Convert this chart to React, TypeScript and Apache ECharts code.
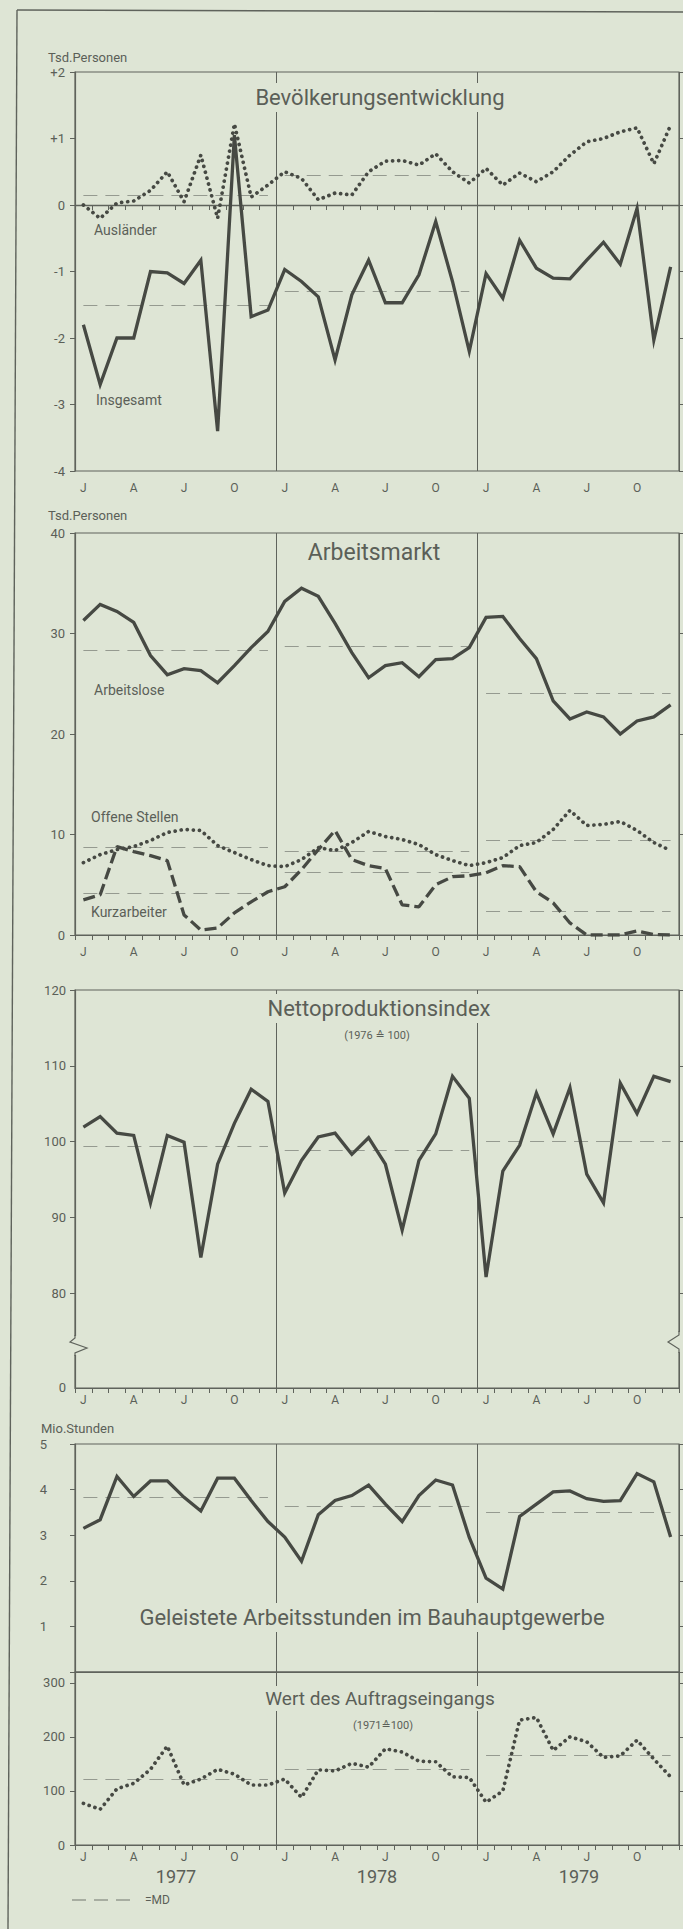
import React, { useEffect, useRef } from 'react';
import * as echarts from 'echarts';

// ---------- categories & tick labels ----------
const YEARS = ['1977', '1978', '1979'];
const MONTH_CODES = ['01', '02', '03', '04', '05', '06', '07', '08', '09', '10', '11', '12'];
const MONTHS = YEARS.flatMap((y) => MONTH_CODES.map((m) => `${y}-${m}`));
const MONTH_TICK_LABELS = ['J', '', '', 'A', '', '', 'J', '', '', 'O', '', ''];

// ---------- Bevölkerungsentwicklung (Tsd. Personen) ----------
const INSGESAMT = [
  -1.8, -2.7, -2.0, -2.0, -1.0, -1.02, -1.18, -0.83, -3.4, 1.05, -1.68, -1.58,
  -0.97, -1.15, -1.38, -2.33, -1.35, -0.83, -1.47, -1.47, -1.05, -0.25, -1.15, -2.2,
  -1.03, -1.4, -0.53, -0.95, -1.1, -1.11, -0.83, -0.56, -0.89, -0.05, -2.03, -0.93,
];
const AUSLAENDER = [
  0.0, -0.2, 0.03, 0.06, 0.22, 0.5, 0.05, 0.75, -0.2, 1.22, 0.12, 0.3,
  0.5, 0.4, 0.08, 0.18, 0.15, 0.5, 0.66, 0.67, 0.6, 0.77, 0.5, 0.33,
  0.55, 0.3, 0.48, 0.35, 0.5, 0.75, 0.95, 1.0, 1.1, 1.16, 0.62, 1.2,
];
const INSGESAMT_MD = [-1.5, -1.3, null];
const AUSLAENDER_MD = [0.15, 0.45, null];

// ---------- Arbeitsmarkt (Tsd. Personen) ----------
const ARBEITSLOSE = [
  31.3, 32.9, 32.2, 31.1, 27.8, 25.9, 26.5, 26.3, 25.1, 26.8, 28.6, 30.2,
  33.2, 34.5, 33.7, 31.0, 28.1, 25.6, 26.8, 27.1, 25.7, 27.4, 27.5, 28.6,
  31.6, 31.7, 29.5, 27.5, 23.3, 21.5, 22.2, 21.7, 20.0, 21.3, 21.7, 22.9,
];
const OFFENE_STELLEN = [
  7.2, 8.0, 8.5, 8.8, 9.4, 10.2, 10.5, 10.4, 8.9, 8.2, 7.5, 6.9,
  6.8, 7.5, 8.7, 8.4, 9.2, 10.3, 9.8, 9.5, 9.0, 8.0, 7.4, 6.9,
  7.2, 7.7, 8.9, 9.2, 10.5, 12.4, 10.9, 11.0, 11.3, 10.4, 9.2, 8.4,
];
const KURZARBEITER = [
  3.5, 4.0, 8.8, 8.3, 7.9, 7.4, 2.0, 0.5, 0.7, 2.2, 3.3, 4.3,
  4.8, 6.5, 8.5, 10.4, 7.5, 6.9, 6.6, 3.0, 2.8, 5.0, 5.8, 5.9,
  6.2, 6.9, 6.8, 4.3, 3.2, 1.2, 0.0, 0.0, 0.0, 0.4, 0.05, 0.0,
];
const ARBEITSLOSE_MD = [28.3, 28.7, 24.1];
const OFFENE_STELLEN_MD = [8.7, 8.3, 9.4];
const KURZARBEITER_MD = [4.2, 6.2, 2.4];

// ---------- Nettoproduktionsindex (1976 = 100) ----------
const NETTO = [
  101.9, 103.3, 101.1, 100.8, 91.9, 100.8, 99.9, 84.7, 97.0, 102.4, 106.9, 105.3,
  93.2, 97.5, 100.6, 101.1, 98.3, 100.5, 97.0, 88.3, 97.5, 101.0, 108.6, 105.7,
  82.1, 96.1, 99.5, 106.4, 101.0, 107.1, 95.7, 91.9, 107.7, 103.7, 108.6, 107.9,
];
const NETTO_MD = [99.4, 98.9, 100.0];
const NETTO_TICKS = [80, 90, 100, 110, 120];

// ---------- Bauhauptgewerbe ----------
const STUNDEN = [
  3.15, 3.34, 4.29, 3.85, 4.19, 4.19, 3.83, 3.53, 4.25, 4.25, 3.76, 3.3,
  2.96, 2.43, 3.45, 3.76, 3.87, 4.1, 3.68, 3.3, 3.87, 4.21, 4.1, 2.95,
  2.06, 1.82, 3.41, 3.68, 3.95, 3.97, 3.8, 3.74, 3.76, 4.35, 4.17, 2.96,
];
const STUNDEN_MD = [3.83, 3.63, 3.5];
const AUFTRAG = [
  77, 66, 104, 114, 140, 183, 111, 122, 140, 131, 111, 111,
  122, 88, 139, 137, 151, 144, 178, 172, 155, 154, 126, 125,
  79, 100, 231, 236, 175, 200, 191, 162, 165, 194, 159, 126,
];
const AUFTRAG_MD = [121, 140, 166];

// ---------- style ----------
const BG = '#dee5d5';
const INK = '#464943';
const FRAME = '#5f635c';
const TEXT = '#5b5f58';
const MD_COLOR = '#959a90';
const FONT = 'Roboto, "DejaVu Sans", sans-serif';

const PLOT_LEFT = 75;
const PLOT_W = 604;
const GRID_BOXES = [
  { top: 72, height: 399 },
  { top: 533, height: 402 },
  { top: 990, height: 398 },
  { top: 1444, height: 228 },
  { top: 1672, height: 173 },
];
// bottom of the broken Netto axis ("0") expressed on the 80..120 scale
const NETTO_BOTTOM = 80 - 95 / (303 / 40);

function mdPairs(md: (number | null)[]) {
  const out: any[] = [];
  md.forEach((v, k) => {
    if (v == null) return;
    out.push([{ coord: [MONTHS[k * 12], v] }, { coord: [MONTHS[k * 12 + 11], v] }]);
  });
  return out;
}

const SOLID = { color: INK, width: 3.3, join: 'miter', miterLimit: 6 };
const DOTTED = { color: INK, width: 3.7, type: [0.1, 6], cap: 'round' };
const DASHED = { color: INK, width: 3.3, type: [12, 5], cap: 'butt' };

function lineSeries(name: string, gi: number, data: number[], lineStyle: any, md: (number | null)[], extra: any[] = []) {
  return {
    name,
    type: 'line',
    xAxisIndex: gi * 2,
    yAxisIndex: gi * 2,
    data,
    showSymbol: false,
    symbol: 'none',
    silent: true,
    z: 3,
    lineStyle,
    markLine: {
      silent: true,
      symbol: ['none', 'none'],
      z: 1,
      label: { show: false },
      lineStyle: { type: [14, 8], color: MD_COLOR, width: 1.2 },
      data: [...extra, ...mdPairs(md)],
    },
  };
}

function catAxis(gi: number, showLabels: boolean, margin: number) {
  return {
    type: 'category',
    gridIndex: gi,
    data: MONTHS,
    boundaryGap: true,
    position: 'bottom',
    axisLine: { show: true, lineStyle: { color: FRAME, width: 1.2 } },
    axisTick: { show: showLabels, interval: 0, length: 5, lineStyle: { color: FRAME, width: 1 } },
    axisLabel: {
      show: showLabels,
      interval: 0,
      margin,
      color: TEXT,
      fontSize: 12,
      fontFamily: FONT,
      formatter: (_v: string, i: number) => MONTH_TICK_LABELS[i % 12],
    },
    splitLine: { show: false },
  };
}

function yearAxis(gi: number) {
  return {
    type: 'value',
    gridIndex: gi,
    min: 0,
    max: 36,
    interval: 12,
    position: 'top',
    axisLine: { show: false },
    axisTick: { show: false },
    axisLabel: { show: false },
    splitLine: { show: true, lineStyle: { color: FRAME, width: 1 } },
  };
}

function valAxis(gi: number, cfg: any, labelCfg: any, side: 'left' | 'right') {
  const isLeft = side === 'left';
  const { tickValues, ...scale } = cfg;
  return {
    type: 'value',
    gridIndex: gi,
    position: side,
    ...scale,
    axisLine: { show: isLeft, lineStyle: { color: FRAME, width: 1.2 } },
    axisTick: { show: true, length: isLeft ? 5 : 4, lineStyle: { color: FRAME, width: 1 }, ...(tickValues ? { customValues: tickValues } : {}) },
    axisLabel: isLeft
      ? { show: true, color: TEXT, fontSize: 13, fontFamily: FONT, ...labelCfg }
      : { show: false },
    splitLine: { show: false },
  };
}

function txt(text: string, x: number, y: number, size: number, align: 'left' | 'center' | 'right' = 'left', color = TEXT) {
  return {
    type: 'text',
    x,
    y,
    z: 100,
    silent: true,
    style: {
      text,
      fill: color,
      font: `${size}px ${FONT}`,
      align,
      textAlign: align,
      verticalAlign: 'middle',
      textVerticalAlign: 'middle',
    },
  };
}

function bgRect(x: number, y: number, w: number, h: number) {
  return { type: 'rect', z: 99, silent: true, shape: { x, y, width: w, height: h }, style: { fill: BG } };
}

function buildOption() {
  const grid = GRID_BOXES.map((g) => ({
    left: PLOT_LEFT,
    width: PLOT_W,
    top: g.top,
    height: g.height,
    show: true,
    borderColor: FRAME,
    borderWidth: 1.2,
    backgroundColor: 'transparent',
  }));

  const xAxis: any[] = [];
  const margins = [11, 11, 6, 6, 6];
  const showLab = [true, true, true, false, true];
  GRID_BOXES.forEach((_g, gi) => {
    xAxis.push(catAxis(gi, showLab[gi], margins[gi]));
    xAxis.push(yearAxis(gi));
  });

  const yCfg: any[] = [
    { min: -4, max: 2, interval: 1 },
    { min: 0, max: 40, interval: 10 },
    { min: NETTO_BOTTOM, max: 120, tickValues: NETTO_TICKS },
    { min: 0, max: 5, interval: 1 },
    { min: 0, max: 320, interval: 100 },
  ];
  const yLab: any[] = [
    { margin: 10, formatter: (v: number) => (v > 0 ? '+' + v : String(v)) },
    { margin: 10 },
    { margin: 9, customValues: NETTO_TICKS },
    { margin: 28, formatter: (v: number) => (v === 0 ? '' : String(v)) },
    { margin: 10, showMaxLabel: false },
  ];
  const yAxis: any[] = [];
  yCfg.forEach((c, gi) => {
    yAxis.push(valAxis(gi, c, yLab[gi], 'left'));
    yAxis.push(valAxis(gi, c, {}, 'right'));
  });

  const series = [
    lineSeries('Insgesamt', 0, INSGESAMT, SOLID, INSGESAMT_MD, [
      { yAxis: 0, lineStyle: { type: 'solid', color: FRAME, width: 1.3 } },
    ]),
    lineSeries('Ausländer', 0, AUSLAENDER, DOTTED, AUSLAENDER_MD),
    lineSeries('Arbeitslose', 1, ARBEITSLOSE, SOLID, ARBEITSLOSE_MD),
    lineSeries('Offene Stellen', 1, OFFENE_STELLEN, DOTTED, OFFENE_STELLEN_MD),
    lineSeries('Kurzarbeiter', 1, KURZARBEITER, DASHED, KURZARBEITER_MD),
    lineSeries('Nettoproduktionsindex', 2, NETTO, SOLID, NETTO_MD),
    lineSeries('Arbeitsstunden', 3, STUNDEN, SOLID, STUNDEN_MD),
    lineSeries('Auftragseingang', 4, AUFTRAG, DOTTED, AUFTRAG_MD),
  ];

  const graphic: any[] = [
    // outer frame
    { type: 'line', z: 90, silent: true, shape: { x1: 17, y1: 10, x2: 683, y2: 12 }, style: { stroke: FRAME, lineWidth: 1.4 } },
    { type: 'line', z: 90, silent: true, shape: { x1: 17, y1: 10, x2: 8, y2: 1929 }, style: { stroke: FRAME, lineWidth: 1.4 } },

    // panel 1
    txt('Tsd.Personen', 48, 57, 13),
    bgRect(243, 83, 274, 29),
    txt('Bevölkerungsentwicklung', 380, 97, 22, 'center'),
    txt('Ausländer', 94, 230, 14),
    txt('Insgesamt', 96, 400, 14),

    // panel 2
    txt('Tsd.Personen', 48, 515, 13),
    txt('Arbeitsmarkt', 374, 552, 23, 'center'),
    txt('Arbeitslose', 94, 690, 14),
    txt('Offene Stellen', 91, 817, 14),
    txt('Kurzarbeiter', 91, 912, 14),

    // panel 3
    bgRect(260, 994, 240, 29),
    txt('Nettoproduktionsindex', 379, 1008, 22, 'center'),
    txt('(1976 ≙ 100)', 377, 1035, 11, 'center'),
    txt('0', 66, 1387, 13, 'right'),
    // axis break marks
    bgRect(71, 1336, 8, 19),
    { type: 'polyline', z: 101, silent: true, shape: { points: [[75, 1335], [75, 1338], [70, 1342], [87, 1348], [75, 1353], [75, 1356]] }, style: { stroke: FRAME, lineWidth: 1.2, fill: null } },
    bgRect(675, 1332, 8, 20),
    { type: 'polyline', z: 101, silent: true, shape: { points: [[679, 1331], [679, 1335], [668, 1342], [679, 1349], [679, 1353]] }, style: { stroke: FRAME, lineWidth: 1.2, fill: null } },

    // panel 4
    txt('Mio.Stunden', 41, 1428, 13),
    bgRect(106, 1603, 534, 29),
    txt('Geleistete Arbeitsstunden im Bauhauptgewerbe', 372, 1617, 22, 'center'),
    bgRect(254, 1686, 252, 25),
    txt('Wert des Auftragseingangs', 380, 1698, 19, 'center'),
    txt('(1971≙100)', 383, 1725, 11, 'center'),

    // years
    txt(YEARS[0], 176, 1876, 18, 'center'),
    txt(YEARS[1], 377, 1876, 18, 'center'),
    txt(YEARS[2], 579, 1876, 18, 'center'),

    // legend
    { type: 'line', z: 100, silent: true, shape: { x1: 72, y1: 1900, x2: 134, y2: 1900 }, style: { stroke: MD_COLOR, lineWidth: 1.3, lineDash: [14, 8] } },
    txt('=MD', 145, 1900, 12),
  ];

  return {
    animation: false,
    backgroundColor: BG,
    textStyle: { fontFamily: FONT },
    grid,
    xAxis,
    yAxis,
    series,
    graphic: { elements: graphic },
  };
}

export default function App() {
  const ref = useRef<HTMLDivElement>(null);
  useEffect(() => {
    document.body.style.margin = '0';
    const chart = echarts.init(ref.current as HTMLDivElement, null, { renderer: 'svg', width: 683, height: 1929 });
    chart.setOption(buildOption() as any);
    return () => chart.dispose();
  }, []);
  return <div ref={ref} style={{ width: 683, height: 1929, background: BG }} />;
}
